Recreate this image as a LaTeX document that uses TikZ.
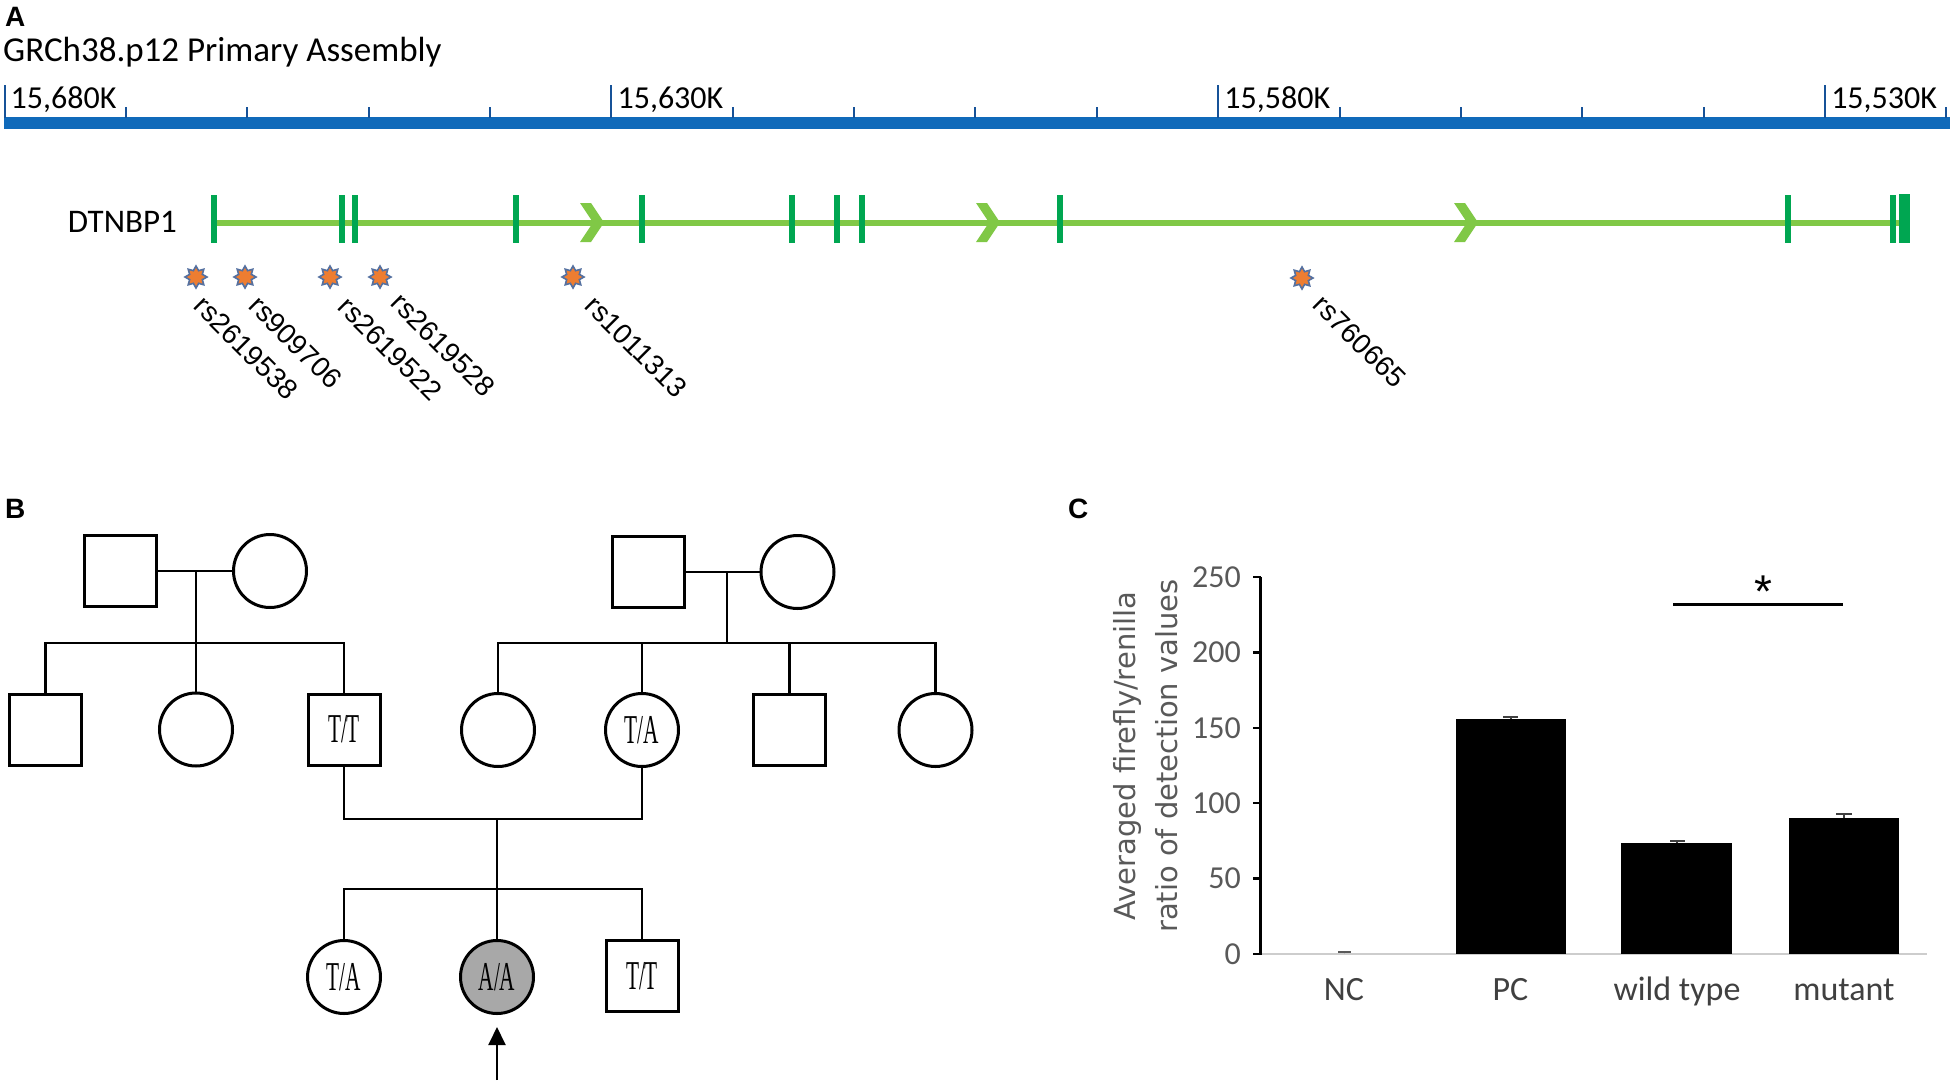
\documentclass[tikz,border=0pt]{standalone}
\usepackage{graphicx}
\usepackage{fontspec}
\setmainfont{Carlito}
\newfontfamily\snpfont{Liberation Sans}
\newfontfamily\pedfont{Liberation Serif}
\newfontfamily\axisfont{DejaVu Sans}
\usetikzlibrary{shapes.geometric,arrows.meta}
\newcommand\fsz[2]{\fontsize{#1}{#2}\selectfont}
\newcommand\gtx[1]{\scalebox{0.52}[1]{\pedfont\fsz{41}{41}#1}}
\definecolor{rulerblue}{RGB}{16,106,186}
\definecolor{tickblue}{RGB}{22,82,152}
\definecolor{intron}{RGB}{128,200,70}
\definecolor{exon}{RGB}{0,166,81}
\definecolor{snporange}{RGB}{237,125,49}
\definecolor{snpblue}{RGB}{84,112,160}
\definecolor{axgray}{RGB}{89,89,89}
\definecolor{labgray}{RGB}{64,64,64}
\definecolor{zerogray}{RGB}{205,205,205}
\definecolor{affected}{RGB}{168,168,168}
\begin{document}
\begin{tikzpicture}[x=1pt,y=-1pt,
  panellbl/.style={font=\snpfont\bfseries\fsz{28}{28}, inner sep=0, anchor=north west},
  ticklbl/.style={font=\fsz{32}{32}, inner sep=0, anchor=base west},
  snp/.style={star, star points=8, star point ratio=1.6, minimum size=22pt, inner sep=0, fill=snporange, draw=snpblue, line width=1.6pt},
  snplbl/.style={font=\snpfont\fsz{28}{28}, inner sep=0, anchor=south west, rotate=-45},
  male/.style={draw, rectangle, line width=3pt, minimum width=72pt, minimum height=71pt, inner sep=0, fill=white},
  female/.style={draw, circle, line width=3pt, minimum size=73pt, inner sep=0, fill=white},
  pl/.style={line width=2.2pt},
  ylbl/.style={font=\fsz{32}{32}, inner sep=0, anchor=east, text=axgray},
  xlbl/.style={font=\fsz{34}{34}, inner sep=0, anchor=base, text=labgray},
  bar/.style={fill=black}
]
\useasboundingbox (0,0) rectangle (1955,1082);
\fill[white] (0,0) rectangle (1955,1082);

% ---------------- Panel A ----------------
\node[panellbl] (lA) at (5,7) {A};
\node[font=\fsz{35}{35}, inner sep=0, anchor=base west] (asm) at (3,61) {GRCh38.p12 Primary Assembly};

\fill[rulerblue] (4,117) rectangle (1950,129);
\foreach \i in {0,...,16}{
  \draw[tickblue, line width=2pt] ({4.5+121.37*\i},107) -- ({4.5+121.37*\i},118);
}
\foreach \i/\t in {0/15{,}680K,5/15{,}630K,10/15{,}580K,15/15{,}530K}{
  \draw[tickblue, line width=2pt] ({4.5+121.37*\i},85) -- ({4.5+121.37*\i},118);
  \node[ticklbl] at ({10.5+121.37*\i},108) {\t};
}

\node[font=\fsz{33}{33}, inner sep=0, anchor=east] (gene) at (177,222) {DTNBP1};
\draw[intron, line width=6pt] (212,222.5) -- (1905,222.5);
\foreach \x in {580,976,1454}{
  \fill[intron] (\x,203) -- (\x+11,203) -- (\x+24,222.5) -- (\x+11,242) -- (\x,242) -- (\x+13,222.5) -- cycle;
}
\foreach \x in {214,342,355,516,642,792,837,862,1060,1788,1893}{
  \fill[exon] (\x-2.6,195) rectangle (\x+2.6,243);
}
\fill[exon] (1899,194) rectangle (1910,243);

\node[snp] (s1) at (196,277) {};
\node[snp] (s2) at (245,277) {};
\node[snp] (s3) at (330,277) {};
\node[snp] (s4) at (380,277) {};
\node[snp] (s5) at (573,277) {};
\node[snp] (s6) at (1302,278) {};
\node[snplbl] (t1) at (192,308) {rs2619538};
\node[snplbl] (t2) at (247,308) {rs909706};
\node[snplbl] (t3) at (336,309) {rs2619522};
\node[snplbl] (t4) at (389,305) {rs2619528};
\node[snplbl] (t5) at (583,308) {rs1011313};
\node[snplbl] (t6) at (1311,307) {rs760665};

% ---------------- Panel B ----------------
\node[panellbl] (lB) at (5,499) {B};

\node[male]   (m1) at (120,571) {};
\node[female] (f1) at (270,571) {};
\node[male]   (m2) at (648,572) {};
\node[female] (f2) at (797.5,572) {};

\node[male]   (c1) at (45.5,729.5) {};
\node[female] (c2) at (196,729.5) {};
\node[male]   (c3) at (344,729.5) {\gtx{T/T}};
\node[female] (c4) at (498,730) {};
\node[female] (c5) at (642,730) {\gtx{T/A}};
\node[male]   (c6) at (789.5,730) {};
\node[female] (c7) at (935.5,730) {};

\node[female] (g1) at (344,977) {\gtx{T/A}};
\node[female, fill=affected] (g2) at (497,977) {\gtx{A/A}};
\node[male]   (g3) at (642,976) {\gtx{T/T}};

\coordinate (d1) at (196,571);
\coordinate (j1) at (196,643);
\draw[pl] (m1.east) -- (f1.west);
\draw[pl] (d1) -- (c2.north);
\draw[pl] (c1.north) |- (j1) -| (c3.north);

\coordinate (d2) at (727,572);
\coordinate (j2) at (727,643);
\draw[pl] (m2.east) -- (f2.west);
\draw[pl] (d2) -- (j2);
\draw[pl] (c4.north) |- (j2) -| (c7.north);
\draw[pl] (c5.north) -- (c5.north |- j2);
\draw[pl] (c6.north) -- (c6.north |- j2);

\coordinate (mj) at (497,819);
\coordinate (sj) at (497,889);
\draw[pl] (c3.south) |- (mj) -| (c5.south);
\draw[pl] (mj) -- (g2.north);
\draw[pl] (g1.north) |- (sj) -| (g3.north);

\coordinate (arrbase) at (497,1080);
\draw[line width=2pt, -{Triangle[length=18pt,width=17pt]}, shorten >=12pt] (arrbase) -- (g2.south);

% ---------------- Panel C ----------------
\node[panellbl] (lC) at (1068,499) {C};

\draw[zerogray, line width=2.5pt] (1262,954) -- (1927,954);
\draw[black, line width=2.5pt] (1260.5,577) -- (1260.5,955);
\foreach \v in {0,50,...,250}{
  \draw[black, line width=2.5pt] (1253,{954-\v*1.508}) -- (1260.5,{954-\v*1.508});
  \node[ylbl] at (1241,{954-\v*1.508}) {\v};
}

\node[bar, minimum width=0, inner sep=0] (bnc) at (1344,953) {};
\draw[axgray, line width=2pt] (1338,952) -- (1351,952);
\fill[bar] (1455.5,719) rectangle (1565.5,954);
\fill[bar] (1621,843) rectangle (1732,954);
\fill[bar] (1789,818) rectangle (1899,954);
\draw[labgray, line width=2pt] (1510.5,719) -- (1510.5,716.5) (1503,716.5) -- (1518,716.5);
\draw[labgray, line width=2pt] (1677,843) -- (1677,840.5) (1670,840.5) -- (1685,840.5);
\draw[labgray, line width=2pt] (1844,818) -- (1844,813.5) (1836,813.5) -- (1852,813.5);

\draw[black, line width=3pt] (1673,604) -- (1843,604);
\node[font=\snpfont\fsz{46}{46}, inner sep=0] (sig) at (1763,592) {*};

\node[xlbl] (xnc) at (1344,1000) {NC};
\node[xlbl] (xpc) at (1510.5,1000) {PC};
\node[xlbl] (xwt) at (1677,1000) {wild type};
\node[xlbl] (xmu) at (1844,1000) {mutant};

\node[rotate=90, align=center, inner sep=0, font=\axisfont\fsz{29}{42}, text=axgray] (yax) at (1146,756) {Averaged firefly/renilla\\ratio of detection values};
\end{tikzpicture}
\end{document}
